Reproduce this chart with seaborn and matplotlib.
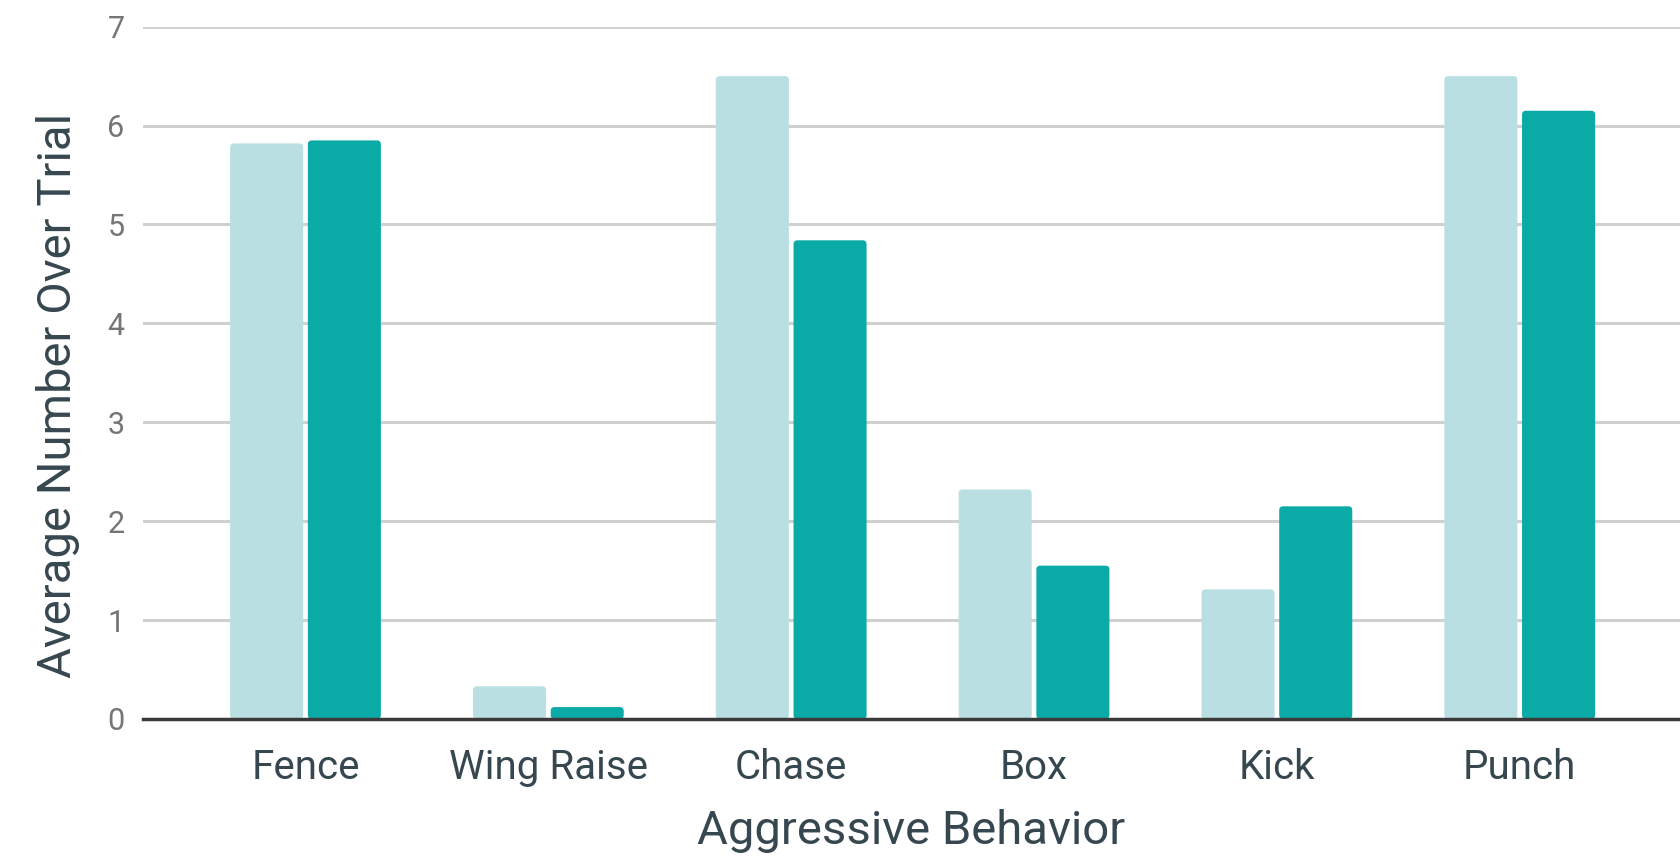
import matplotlib
matplotlib.use("Agg")
import matplotlib.pyplot as plt
from matplotlib.patches import FancyBboxPatch
import seaborn as sns
import pandas as pd

# Average count of each aggressive behavior, two groups
behaviors = ["Fence", "Wing Raise", "Chase", "Box", "Kick", "Punch"]
group_a = [5.82, 0.33, 6.50, 2.32, 1.31, 6.50]
group_b = [5.85, 0.12, 4.84, 1.55, 2.15, 6.15]
group_names = ["Group A", "Group B"]
y_ticks = [0, 1, 2, 3, 4, 5, 6, 7]

light_teal = "#b9dfe2"
dark_teal = "#0aaba6"
text_dark = "#37474f"
tick_gray = "#757575"

df = pd.DataFrame({
    "behavior": behaviors * 2,
    "value": group_a + group_b,
    "group": [group_names[0]] * len(behaviors) + [group_names[1]] * len(behaviors),
})

sns.set_theme(style="white")
plt.rcParams["font.family"] = ["Roboto", "DejaVu Sans"]

fig = plt.figure(figsize=(16.8, 8.61), dpi=100)
ax = fig.add_axes([0.085, 0.165, 0.915, 0.804])

sns.barplot(
    data=df, x="behavior", y="value", hue="group",
    palette=[light_teal, dark_teal], saturation=1, width=0.64, gap=0.06,
    legend=False, ax=ax, zorder=3,
)

ax.set_xlim(-0.67, 5.66)
ax.set_ylim(0, 7)
ax.set_yticks(y_ticks)

# Give the bars slightly rounded corners
rx = 0.016
ry = 0.04
for bar in list(ax.patches):
    x, y = bar.get_x(), bar.get_y()
    w, h = bar.get_width(), bar.get_height()
    rounded = FancyBboxPatch(
        (x, y), w, h,
        boxstyle=f"round,pad=0,rounding_size={rx}",
        mutation_aspect=ry / rx,
        facecolor=bar.get_facecolor(), edgecolor="none", zorder=3,
    )
    bar.remove()
    ax.add_patch(rounded)

ax.yaxis.grid(True, color="#d0d0d0", linewidth=2.2, zorder=0)
ax.set_axisbelow(True)

for side in ["left", "right", "top"]:
    ax.spines[side].set_visible(False)
ax.spines["bottom"].set_color("#3a3a3a")
ax.spines["bottom"].set_linewidth(2.5)
ax.spines["bottom"].set_zorder(4)

ax.tick_params(axis="y", length=0, pad=13, labelsize=22, labelcolor=tick_gray)
ax.tick_params(axis="x", length=0, pad=21, labelsize=29, labelcolor=text_dark)

ax.set_xlabel("Aggressive Behavior", fontsize=34, color=text_dark, labelpad=16)
ax.set_ylabel("Average Number Over Trial", fontsize=34, color=text_dark)
ax.yaxis.set_label_coords(-0.041, 0.467)

fig.savefig("out.png", dpi=100)
